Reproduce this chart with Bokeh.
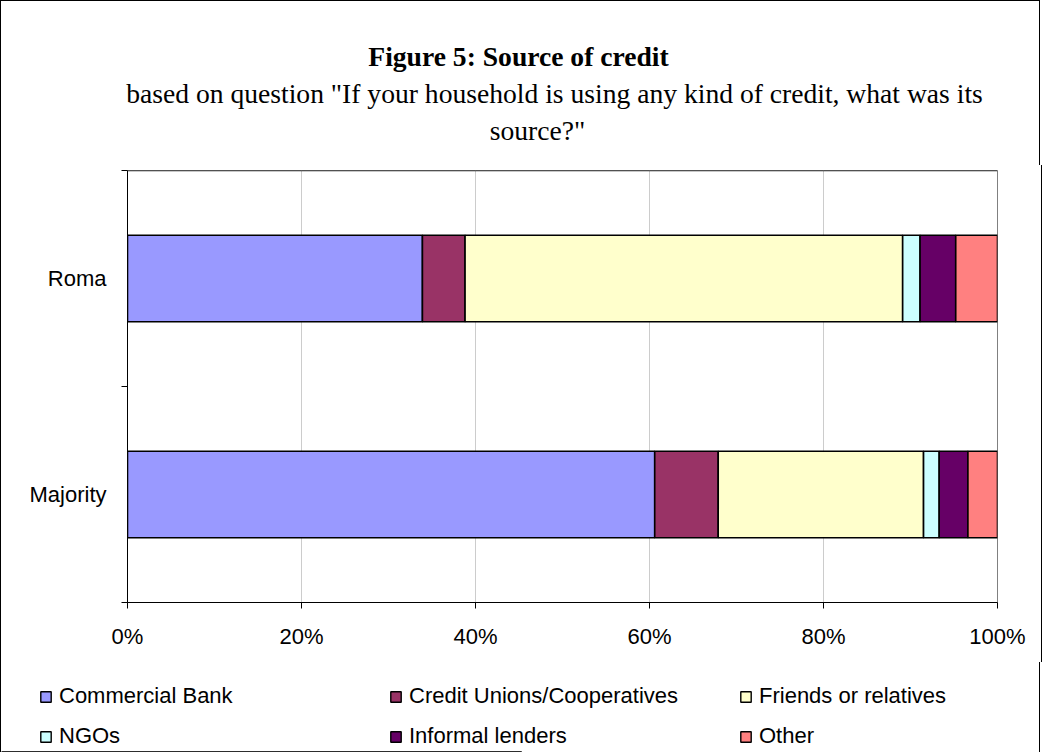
from bokeh.plotting import figure
from bokeh.layouts import column
from bokeh.models import (Range1d, FixedTicker, Legend, LegendItem, Label, Span,
                          ColumnDataSource)
from bokeh.embed import file_html
from bokeh.resources import INLINE

# ---- data ----
groups = ["Majority", "Roma"]
series = ["Commercial Bank", "Credit Unions/Cooperatives", "Friends or relatives",
          "NGOs", "Informal lenders", "Other"]
commercial_bank = [60.6, 33.9]
credit_unions = [7.3, 4.9]
friends_relatives = [23.6, 50.3]
ngos = [1.8, 2.0]
informal_lenders = [3.3, 4.1]
other = [3.4, 4.8]
colors = ["#9999FF", "#993366", "#FFFFCC", "#CCFFFF", "#660066", "#FF8080"]
x_ticks = [0, 20, 40, 60, 80, 100]
x_tick_labels = ["0%", "20%", "40%", "60%", "80%", "100%"]
title_text = "Figure 5: Source of credit"
subtitle_lines = ['based on question "If your household is using any kind of credit, what was its',
                  'source?"']

keys = ["s0", "s1", "s2", "s3", "s4", "s5"]
values = [commercial_bank, credit_unions, friends_relatives, ngos, informal_lenders, other]
data = {"y": [i + 0.5 for i in range(len(groups))]}
for k, v in zip(keys, values):
    data[k] = v
source = ColumnDataSource(data)

SANS = "Liberation Sans"
SERIF = "Liberation Serif"
W = 1040
SIDE = {"border-left": "1px solid black", "border-right": "1px solid black"}
BAR_LINE = 1.6

# ---- top: titles ----
top = figure(width=W, height=165, min_border=0, x_range=Range1d(0, 1), y_range=Range1d(0, 1),
             x_axis_type=None, y_axis_type=None, output_backend="svg", toolbar_location=None)
top.frame_align = False
top.grid.visible = False
top.outline_line_color = None
top.styles = dict(SIDE, **{"border-top": "1px solid black"})
top.add_layout(Label(x=517, y=110, x_units="screen", y_units="screen", text=title_text,
                     text_font=SERIF, text_font_style="bold", text_font_size="27.6px",
                     text_align="center", text_baseline="alphabetic", text_color="black"))
top.add_layout(Label(x=553, y=73, x_units="screen", y_units="screen", text=subtitle_lines[0],
                     text_font=SERIF, text_font_size="27.6px",
                     text_align="center", text_baseline="alphabetic", text_color="black"))
top.add_layout(Label(x=536, y=36, x_units="screen", y_units="screen", text=subtitle_lines[1],
                     text_font=SERIF, text_font_size="27.6px",
                     text_align="center", text_baseline="alphabetic", text_color="black"))

# ---- main chart ----
p = figure(frame_width=868, frame_height=432,
           min_border_left=126, min_border_right=46,
           min_border_top=5, min_border_bottom=60,
           x_range=Range1d(0, 100), y_range=Range1d(0, 2),
           output_backend="svg", toolbar_location=None)
p.frame_align = False
p.styles = SIDE

renderers = p.hbar_stack(keys, y="y", height=0.4, source=source,
                         fill_color=colors, line_color="black", line_width=BAR_LINE)

p.xaxis.ticker = FixedTicker(ticks=x_ticks)
p.xaxis.major_label_overrides = {t: l for t, l in zip(x_ticks, x_tick_labels)}
p.xaxis.major_tick_out = 6
p.xaxis.major_tick_in = 0
p.xaxis.minor_tick_line_color = None
p.xaxis.axis_line_color = "black"
p.xaxis.major_tick_line_color = "black"
p.xaxis.major_label_text_font = SANS
p.xaxis.major_label_text_font_size = "22px"
p.xaxis.major_label_text_color = "black"
p.xaxis.major_label_standoff = 15

p.yaxis.ticker = FixedTicker(ticks=[i + 0.5 for i in range(len(groups))],
                             minor_ticks=[float(i) for i in range(len(groups) + 1)])
p.yaxis.major_label_overrides = {i + 0.5: g for i, g in enumerate(groups)}
p.yaxis.major_tick_out = 0
p.yaxis.major_tick_in = 0
p.yaxis.minor_tick_out = 6
p.yaxis.minor_tick_in = 0
p.yaxis.minor_tick_line_color = "black"
p.yaxis.axis_line_color = "black"
p.yaxis.major_label_text_font = SANS
p.yaxis.major_label_text_font_size = "22px"
p.yaxis.major_label_text_color = "black"
p.yaxis.major_label_standoff = 15

p.xgrid.grid_line_color = "#cccccc"
p.ygrid.grid_line_color = None
p.outline_line_color = "#808080"
p.add_layout(Span(location=2, dimension="width", line_color="#222222", line_width=1.5))

# ---- bottom: legend ----
bot = figure(width=W, height=90, min_border=0, x_range=Range1d(0, 1), y_range=Range1d(0, 1),
             x_axis_type=None, y_axis_type=None, output_backend="svg", toolbar_location=None)
bot.frame_align = False
bot.grid.visible = False
bot.outline_line_color = None
bot.styles = SIDE
# legend proxies: one bar each, lying outside the visible range
dummies = [bot.hbar(y=[-5], right=[0.5], height=0.4, fill_color=c, line_color="black",
                    line_width=1.4) for c in colors]
items = [LegendItem(label=s, renderers=[r]) for s, r in zip(series, dummies)]
leg = Legend(items=items, location=(38, 3), orientation="horizontal", ncols=3,
             padding=0, margin=0, spacing=14, glyph_width=13, glyph_height=13,
             label_height=26, label_width=316, label_standoff=7,
             label_text_font=SANS, label_text_font_size="22px",
             label_text_color="black", border_line_alpha=0,
             background_fill_alpha=0)
bot.add_layout(leg)

layout = column(top, p, bot, spacing=0)
open("out.html", "w").write(file_html(layout, INLINE))
